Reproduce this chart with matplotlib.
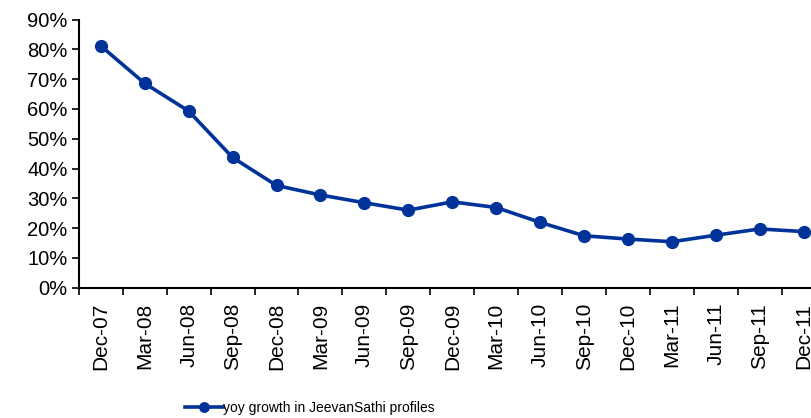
import matplotlib.pyplot as plt
from matplotlib.ticker import FuncFormatter, FixedLocator

plt.rcParams['font.family'] = ['Liberation Sans', 'DejaVu Sans']

# quarterly labels and yoy growth (%)
quarters = ['Dec-07', 'Mar-08', 'Jun-08', 'Sep-08', 'Dec-08', 'Mar-09', 'Jun-09',
            'Sep-09', 'Dec-09', 'Mar-10', 'Jun-10', 'Sep-10', 'Dec-10', 'Mar-11',
            'Jun-11', 'Sep-11', 'Dec-11']
growth = [81.2, 68.6, 59.3, 43.7, 34.3, 31.1, 28.5, 26.0, 28.8, 26.9, 21.9,
          17.4, 16.3, 15.4, 17.6, 19.7, 18.8]
series_name = 'yoy growth in JeevanSathi profiles'

fig = plt.figure(figsize=(8.12, 4.18), dpi=100)
ax = fig.add_axes([0.097, 0.312, 0.92, 0.641])

x = list(range(len(quarters)))
ax.plot(x, growth, color='#003399', lw=2.6, marker='o', ms=8.5, label=series_name)

ax.set_xlim(-0.5, len(quarters) - 0.5)
ax.set_ylim(0, 90)
ax.set_yticks(range(0, 91, 10))
ax.yaxis.set_major_formatter(FuncFormatter(lambda v, p: f'{v:.0f}%'))
ax.tick_params(axis='y', direction='out', length=5, width=1.2, labelsize=14.5, pad=3)

ax.set_xticks(x)
ax.set_xticklabels(quarters, rotation=90, fontsize=15)
ax.xaxis.set_minor_locator(FixedLocator([i - 0.5 for i in range(len(quarters) + 1)]))
ax.tick_params(axis='x', which='major', length=0, pad=11)
ax.tick_params(axis='x', which='minor', direction='out', length=5, width=1.2)

for s in ['top', 'right']:
    ax.spines[s].set_visible(False)
for s in ['left', 'bottom']:
    ax.spines[s].set_linewidth(1.5)

fig.legend(loc='center', bbox_to_anchor=(0.382, 0.024), frameon=False,
           fontsize=10, handlelength=2.7, handletextpad=0.05, markerscale=0.8)

fig.savefig('out.png', dpi=100)
